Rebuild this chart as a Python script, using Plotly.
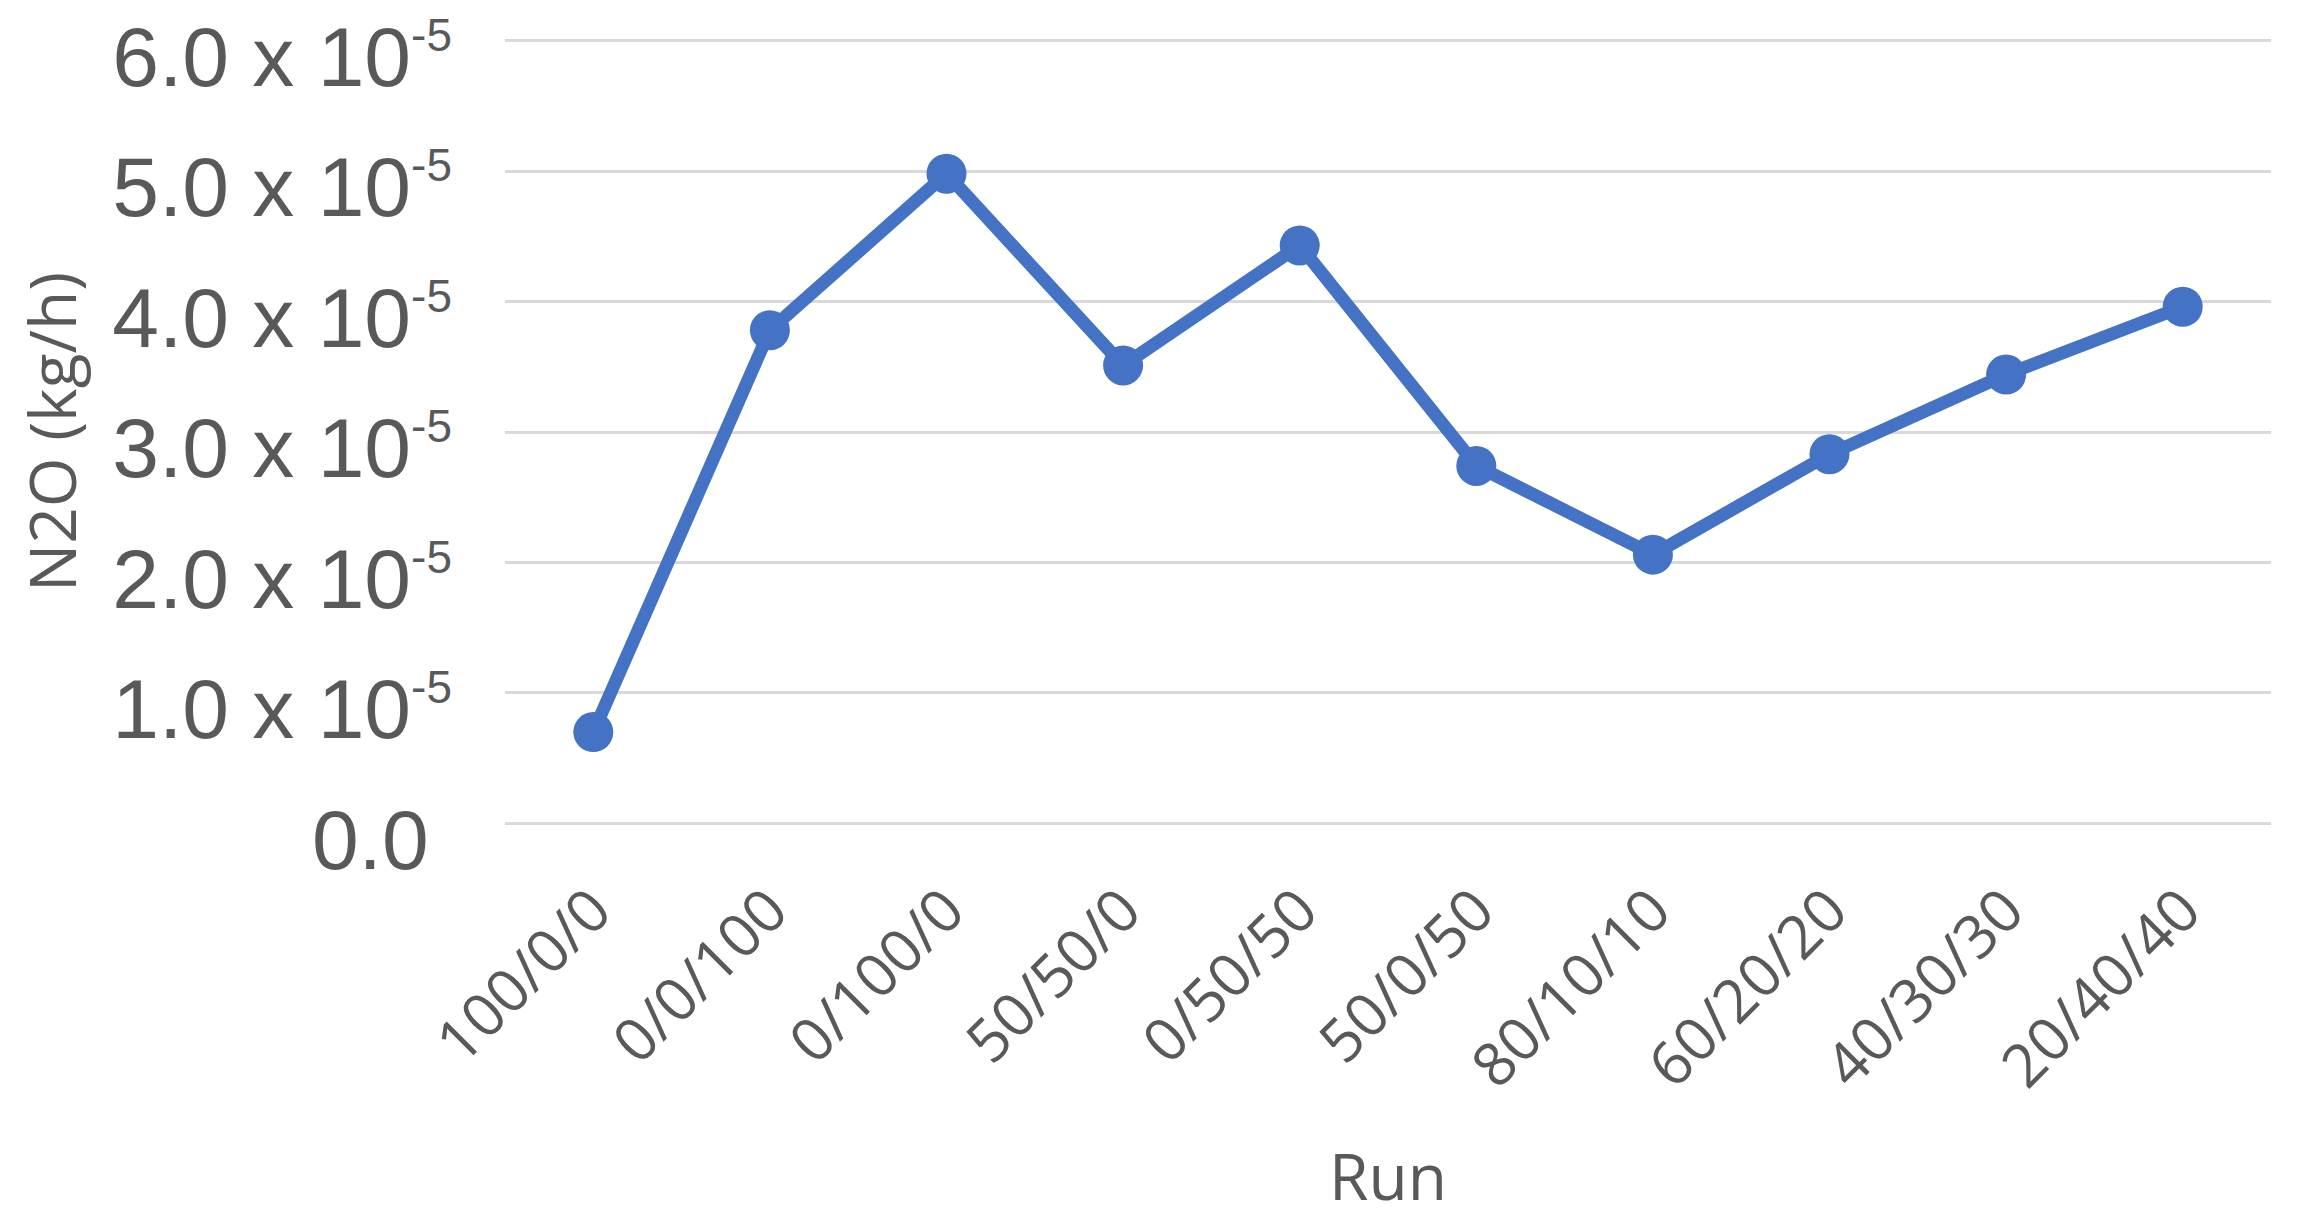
import plotly.graph_objects as go

runs = ["100/0/0", "0/0/100", "0/100/0", "50/50/0", "0/50/50",
        "50/0/50", "80/10/10", "60/20/20", "40/30/30", "20/40/40"]
n2o = [0.70e-5, 3.78e-5, 4.98e-5, 3.51e-5, 4.43e-5,
       2.74e-5, 2.06e-5, 2.83e-5, 3.44e-5, 3.96e-5]
y_tick_vals = [0, 1e-5, 2e-5, 3e-5, 4e-5, 5e-5, 6e-5]
SUP = "<sup><span style='font-size:46px'>-5</span></sup>"
y_tick_text = ["0.0\u00a0", "1.0 x 10" + SUP, "2.0 x 10" + SUP,
               "3.0 x 10" + SUP, "4.0 x 10" + SUP,
               "5.0 x 10" + SUP, "6.0 x 10" + SUP]

GRAY = "#595959"

fig = go.Figure()
fig.add_trace(go.Scatter(
    x=runs, y=n2o, mode="lines+markers",
    line=dict(color="#4472C4", width=13),
    marker=dict(color="#4472C4", size=40),
    showlegend=False,
))

fig.update_layout(
    width=2281, height=1214,
    margin=dict(l=497, r=18, t=30, b=396),
    paper_bgcolor="white", plot_bgcolor="white",
    xaxis=dict(
        type="category", range=[-0.5, 9.5],
        showgrid=False, showline=False, zeroline=False,
        tickangle=-45, ticks="", ticklabelstandoff=36,
        tickfont=dict(family="Open Sans", size=60, color=GRAY),
        title=dict(text="Run", font=dict(family="Open Sans", size=64, color=GRAY), standoff=52),
        automargin=False,
    ),
    yaxis=dict(
        range=[-0.02e-5, 6.02e-5], tickvals=y_tick_vals, ticktext=y_tick_text,
        showgrid=True, gridcolor="#D9D9D9", gridwidth=3,
        showline=False, zeroline=False, ticks="",
        tickfont=dict(family="Liberation Sans", size=84, color=GRAY),
        ticklabelstandoff=52, ticklabeloverflow="allow", ticklabelshift=16,
        title=dict(text="N2O (kg/h)", font=dict(family="Open Sans", size=64, color=GRAY), standoff=20),
        automargin=False,
    ),
)

fig.write_html("out.html")
